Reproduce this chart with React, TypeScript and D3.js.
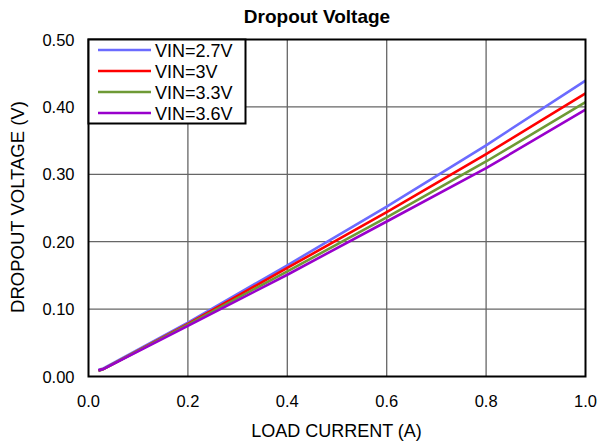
import React from "react";
import * as d3 from "d3";

// Load current (A) sample points
const loadCurrent = [0.02, 0.03, 0.2, 0.4, 0.6, 0.8, 1.0];

// Dropout voltage (V) for each input voltage
const vin27 = [0.010, 0.012, 0.080, 0.165, 0.252, 0.343, 0.439];
const vin30 = [0.009, 0.011, 0.078, 0.161, 0.244, 0.330, 0.420];
const vin33 = [0.008, 0.011, 0.077, 0.156, 0.236, 0.319, 0.407];
const vin36 = [0.009, 0.011, 0.075, 0.151, 0.230, 0.309, 0.396];

const seriesNames = ["VIN=2.7V", "VIN=3V", "VIN=3.3V", "VIN=3.6V"];
const seriesColors = ["#6b6bff", "#ff0000", "#6e9a35", "#9900cc"];

const xTicks = [0, 0.2, 0.4, 0.6, 0.8, 1.0];
const yTicks = [0, 0.1, 0.2, 0.3, 0.4, 0.5];

const W = 598;
const H = 444;
const M = { left: 88.5, right: 12.5, top: 39.5, bottom: 67.5 };

export default function App() {
  const x = d3.scaleLinear().domain([0, 1]).range([M.left, W - M.right]);
  const y = d3.scaleLinear().domain([0, 0.5]).range([H - M.bottom, M.top]);
  const allSeries = [vin27, vin30, vin33, vin36];
  const line = d3
    .line<number>()
    .x((_, i) => x(loadCurrent[i]))
    .y((d) => y(d));
  const font = "Arial, 'Liberation Sans', sans-serif";

  return (
    <svg
      width={W}
      height={H}
      style={{ position: "absolute", left: 0, top: 0, background: "#fff" }}
      fontFamily={font}
    >
      <text x={317} y={23} textAnchor="middle" fontSize={19} fontWeight="bold">
        Dropout Voltage
      </text>

      {/* grid */}
      {xTicks.slice(1, -1).map((t) => (
        <line key={"gx" + t} x1={x(t)} x2={x(t)} y1={y(0)} y2={y(0.5)} stroke="#666" strokeWidth={1.3} />
      ))}
      {yTicks.slice(1, -1).map((t) => (
        <line key={"gy" + t} x1={x(0)} x2={x(1)} y1={y(t)} y2={y(t)} stroke="#666" strokeWidth={1.3} />
      ))}

      {/* series */}
      {allSeries.map((s, i) => (
        <path key={i} d={line(s) || ""} fill="none" stroke={seriesColors[i]} strokeWidth={2.6} />
      ))}

      {/* plot frame */}
      <rect x={x(0)} y={y(0.5)} width={x(1) - x(0)} height={y(0) - y(0.5)} fill="none" stroke="#000" strokeWidth={2} />

      {/* ticks */}
      {xTicks.map((t) => (
        <text key={"tx" + t} x={x(t)} y={y(0) + 30} textAnchor="middle" fontSize={16.5}>
          {t.toFixed(1)}
        </text>
      ))}
      {yTicks.map((t) => (
        <text key={"ty" + t} x={x(0) - 14} y={y(t) + 6} textAnchor="end" fontSize={16.5}>
          {t.toFixed(2)}
        </text>
      ))}

      <text x={336.5} y={437} textAnchor="middle" fontSize={18}>
        LOAD CURRENT (A)
      </text>
      <text transform={`translate(24,${y(0.25) - 1}) rotate(-90)`} textAnchor="middle" fontSize={18.5}>
        DROPOUT VOLTAGE (V)
      </text>

      {/* legend */}
      <rect x={88.5} y={39.5} width={157} height={84} fill="#fff" stroke="#000" strokeWidth={2} />
      {seriesNames.map((n, i) => (
        <g key={n}>
          <line x1={98} x2={151} y1={50 + i * 21} y2={50 + i * 21} stroke={seriesColors[i]} strokeWidth={2.6} />
          <text x={155} y={50 + i * 21 + 6.5} fontSize={18}>
            {n}
          </text>
        </g>
      ))}
    </svg>
  );
}
